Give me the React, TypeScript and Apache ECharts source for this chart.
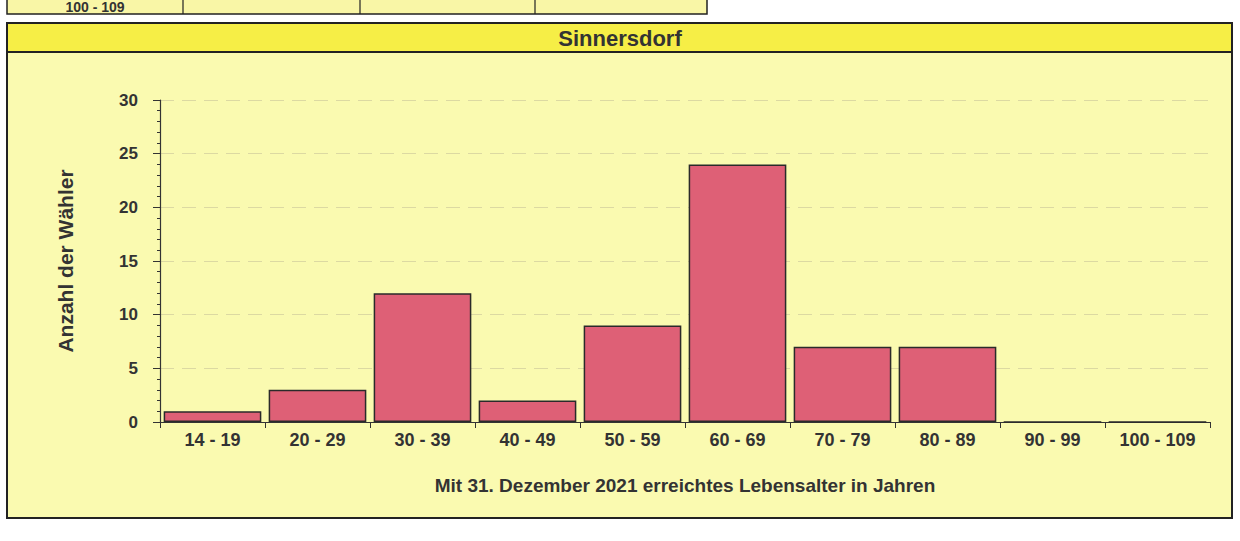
import React, { useEffect, useRef } from "react";
import * as echarts from "echarts";

const categories = ["14 - 19", "20 - 29", "30 - 39", "40 - 49", "50 - 59", "60 - 69", "70 - 79", "80 - 89", "90 - 99", "100 - 109"];
const voters = [1, 3, 12, 2, 9, 24, 7, 7, 0, 0];
const chartTitle = "Sinnersdorf";
const xAxisTitle = "Mit 31. Dezember 2021 erreichtes Lebensalter in Jahren";
const yAxisTitle = "Anzahl der Wähler";
const topRowLabel = "100 - 109";

const FONT = "'Liberation Sans', Arial, sans-serif";

export default function App() {
  const ref = useRef<HTMLDivElement>(null);
  useEffect(() => {
    document.body.style.margin = "0";
    document.body.style.background = "#ffffff";
    const chart = echarts.init(ref.current!, null, { renderer: "svg" });
    chart.setOption({
      animation: false,
      backgroundColor: "#ffffff",
      textStyle: { fontFamily: FONT },
      graphic: [
        // partial table row at the top
        { type: "rect", z: -10, shape: { x: 7, y: -6, width: 700, height: 20 }, style: { fill: "#f9f6a6", stroke: "#222", lineWidth: 1.5 } },
        { type: "line", z: -9, shape: { x1: 183, y1: -6, x2: 183, y2: 14 }, style: { stroke: "#222", lineWidth: 1.2 } },
        { type: "line", z: -9, shape: { x1: 360, y1: -6, x2: 360, y2: 14 }, style: { stroke: "#222", lineWidth: 1.2 } },
        { type: "line", z: -9, shape: { x1: 535, y1: -6, x2: 535, y2: 14 }, style: { stroke: "#222", lineWidth: 1.2 } },
        { type: "text", z: -9, x: 95, y: 7, style: { text: topRowLabel, font: `bold 14px ${FONT}`, fill: "#333", align: "center", verticalAlign: "middle" } },
        // main box
        { type: "rect", z: -10, shape: { x: 7, y: 23, width: 1225, height: 495 }, style: { fill: "#fafab0", stroke: "#222", lineWidth: 2 } },
        { type: "rect", z: -9, shape: { x: 7, y: 23, width: 1225, height: 29 }, style: { fill: "#f6ee46", stroke: "#222", lineWidth: 2 } },
        { type: "text", z: -8, x: 620, y: 38, style: { text: chartTitle, font: `bold 22px ${FONT}`, fill: "#333", align: "center", verticalAlign: "middle" } },
      ],
      grid: { left: 160, right: 30, top: 100, bottom: 119, containLabel: false },
      xAxis: {
        type: "category",
        data: categories,
        axisLine: { show: true, lineStyle: { color: "#333", width: 1.2 } },
        axisTick: { show: true, alignWithLabel: false, length: 6, lineStyle: { color: "#333" } },
        axisLabel: { color: "#333", fontSize: 18, fontWeight: "bold", fontFamily: FONT, margin: 9, interval: 0 },
        name: xAxisTitle,
        nameLocation: "middle",
        nameGap: 54,
        nameTextStyle: { color: "#333", fontSize: 19, fontWeight: "bold", fontFamily: FONT },
      },
      yAxis: {
        type: "value",
        min: 0,
        max: 30,
        interval: 5,
        axisLine: { show: true, lineStyle: { color: "#333", width: 1.2 } },
        axisTick: { show: true, length: 7, lineStyle: { color: "#333" } },
        minorTick: { show: true, splitNumber: 5, length: 3, lineStyle: { color: "#333" } },
        axisLabel: { color: "#333", fontSize: 17, fontWeight: "bold", fontFamily: FONT, margin: 22 },
        splitLine: { show: true, lineStyle: { color: "#dcd9a2", width: 1, type: [14, 8] } },
        name: yAxisTitle,
        nameLocation: "middle",
        nameGap: 84,
        nameRotate: 90,
        nameTextStyle: { color: "#333", fontSize: 21, fontWeight: "bold", fontFamily: FONT },
      },
      series: [
        {
          type: "bar",
          data: voters,
          barCategoryGap: "7%",
          itemStyle: { color: "#de6076", borderColor: "#2a2a2a", borderWidth: 1.5 },
        },
      ],
    });
    return () => chart.dispose();
  }, []);
  return <div ref={ref} style={{ width: 1240, height: 541 }} />;
}
